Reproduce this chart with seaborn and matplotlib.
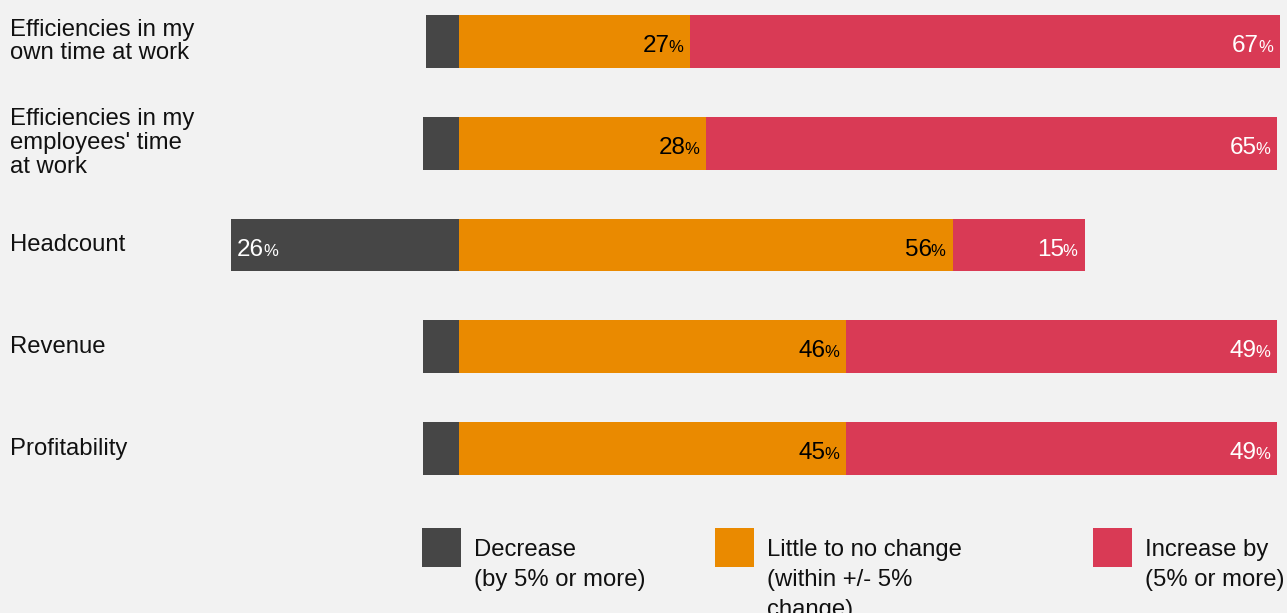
import pandas as pd
import matplotlib
matplotlib.use("Agg")
import matplotlib.pyplot as plt
import matplotlib.transforms as mtransforms
from matplotlib.patches import Rectangle
import seaborn as sns

# Data (bar lengths in %), plus the printed labels
categories = [
    "Efficiencies in my\nown time at work",
    "Efficiencies in my\nemployees' time\nat work",
    "Headcount",
    "Revenue",
    "Profitability",
]
decrease = [3.8, 4.1, 25.9, 4.1, 4.1]
little = [26.3, 28.1, 56.1, 44.0, 44.0]
increase = [67.0, 64.9, 15.0, 49.0, 49.0]
decrease_labels = ["", "", "26", "", ""]
little_labels = ["27", "28", "56", "46", "45"]
increase_labels = ["67", "65", "15", "49", "49"]
legend_labels = [
    ["Decrease", "(by 5% or more)"],
    ["Little to no change", "(within +/- 5%", "change)"],
    ["Increase by", "(5% or more)"],
]

C_DEC = "#464646"
C_LIT = "#EA8A00"
C_INC = "#D93A55"
BG = "#F2F2F2"

W, H = 1287, 613
sns.set_style("white")
plt.rcParams["font.family"] = ["Liberation Sans", "DejaVu Sans"]

df = pd.DataFrame({
    "category": categories,
    "decrease": [-d for d in decrease],
    "little": little,
    "positive": [l + i for l, i in zip(little, increase)],
})

fig = plt.figure(figsize=(W / 100, H / 100), dpi=100)
fig.patch.set_facecolor(BG)
ax = fig.add_axes([0, 0, 1, 1])
ax.set_facecolor(BG)

bar_kw = dict(data=df, y="category", orient="h", width=0.52, saturation=1,
              linewidth=0, ax=ax)
sns.barplot(x="positive", color=C_INC, **bar_kw)
sns.barplot(x="little", color=C_LIT, **bar_kw)
sns.barplot(x="decrease", color=C_DEC, **bar_kw)

# pixel 459 is zero, ~8.8 px per percent point
k = 8.8
ax.set_xlim(-459 / k, (W - 459) / k)
step = 101.75
ax.set_ylim((H - 41.5) / step, -41.5 / step)
ax.set_xticks([])
ax.set_yticks([])
ax.set_xlabel("")
ax.set_ylabel("")
sns.despine(ax=ax, left=True, bottom=True)

renderer = fig.canvas.get_renderer()
num_size, pct_size = 17.5, 12
text_size = 17.2


def text_width(s, size):
    t = ax.text(0, 0, s, fontsize=size)
    w = t.get_window_extent(renderer).width
    t.remove()
    return w


pct_w = text_width("%", pct_size)


def label_right(x, y, num, color):
    # number + small % sign, right aligned at x (data) with 7px padding
    ax.annotate("%", (x, y), xytext=(-7, -10.5), textcoords="offset pixels",
                ha="right", va="baseline", fontsize=pct_size, color=color)
    ax.annotate(num, (x, y), xytext=(-6 - pct_w, -10.5), textcoords="offset pixels",
                ha="right", va="baseline", fontsize=num_size, color=color)


def label_left(x, y, num, color):
    nw = text_width(num, num_size)
    ax.annotate(num, (x, y), xytext=(6, -10.5), textcoords="offset pixels",
                ha="left", va="baseline", fontsize=num_size, color=color)
    ax.annotate("%", (x, y), xytext=(5 + nw, -10.5), textcoords="offset pixels",
                ha="left", va="baseline", fontsize=pct_size, color=color)


for i in range(len(categories)):
    label_right(little[i], i, little_labels[i], "black")
    label_right(little[i] + increase[i], i, increase_labels[i], "white")
    if decrease_labels[i]:
        label_left(-decrease[i], i, decrease_labels[i], "white")

# category labels on the left
trans = mtransforms.blended_transform_factory(fig.transFigure, ax.transData)
for i, cat in enumerate(categories):
    ax.text(10 / W, i, cat, transform=trans, ha="left", va="center",
            fontsize=text_size, linespacing=1.11, color="#111111")

# legend
legend_x = [422, 715, 1093]
for x0, lines, c in zip(legend_x, legend_labels, [C_DEC, C_LIT, C_INC]):
    fig.patches.append(Rectangle((x0 / W, 1 - 567 / H), 39 / W, 39 / H,
                                 transform=fig.transFigure, facecolor=c,
                                 edgecolor="none"))
    for j, line in enumerate(lines):
        fig.text((x0 + 52) / W, 1 - (556 + 30 * j) / H, line, ha="left",
                 va="baseline", fontsize=text_size, color="#111111")

fig.savefig("out.png", dpi=100, facecolor=BG)
